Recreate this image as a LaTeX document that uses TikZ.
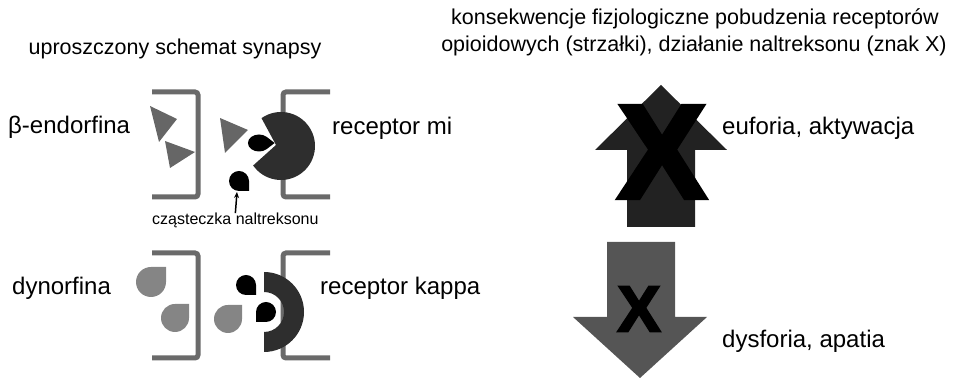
\documentclass[tikz,border=0pt]{standalone}
\usepackage{fontspec}
\setmainfont{Liberation Sans}
\newfontfamily\xheavy{Liberation Sans Bold}[FakeBold=3]
\usetikzlibrary{calc,arrows.meta}
\definecolor{memgray}{HTML}{6A6A6A}
\definecolor{ligandgray}{HTML}{666666}
\definecolor{dropgray}{HTML}{858585}
\definecolor{recdark}{HTML}{2E2E2E}
\definecolor{updark}{HTML}{222222}
\definecolor{downgray}{HTML}{555555}
\tikzset{
  pics/drop/.style={code={
    \fill[pic actions] (0,#1) -- (#1,#1) -- (#1,0)
      arc[start angle=0,end angle=-270,radius=#1pt] -- cycle;}},
  lbl/.style={inner sep=0pt, anchor=base west, font=\fontsize{24}{28}\selectfont},
  ttl/.style={inner sep=0pt, anchor=base, font=\fontsize{21.5}{26}\selectfont},
  small/.style={inner sep=0pt, anchor=base west, font=\fontsize{16}{19}\selectfont},
  membrane/.style={draw=memgray, line width=5pt, rounded corners=3pt},
  xmark/.style={inner sep=0pt, anchor=center},
}
\begin{document}
\begin{tikzpicture}[x=1pt,y=1pt]
\useasboundingbox (0,0) rectangle (962,379);

% titles
\node[ttl] (t1) at (175,324) {uproszczony schemat synapsy};
\node[ttl] (t2a) at (695,354) {konsekwencje fizjologiczne pobudzenia receptorów};
\node[ttl] (t2b) at (694,327) {opioidowych (strzałki), działanie naltreksonu (znak X)};

% membranes: presynaptic ] and postsynaptic [
\draw[membrane] (152,287) -- (198,287) -- (198,182) -- (152,182);
\draw[membrane] (330,287) -- (283,287) -- (283,182) -- (330,182);
\draw[membrane] (152,126) -- (198,126) -- (198,21) -- (152,21);
\draw[membrane] (330,126) -- (283,126) -- (283,21) -- (330,21);

% beta-endorphin molecules
\fill[ligandgray] (150,273) -- (177,260) -- (159,237) -- cycle;
\fill[ligandgray] (165,238) -- (195,227) -- (170,211) -- cycle;
\fill[ligandgray] (220,261) -- (248,249) -- (225,226) -- cycle;

% mu receptor
\coordinate (miC) at (281,233);
\coordinate (miA) at (276,234);
\fill[recdark] (miA) -- ($(miC)+(215:34)$)
  arc[start angle=215,end angle=485,radius=34pt] -- cycle;

% naltrexone (upper)
\pic[fill=black, xscale=1.3, rotate=-45] (nalmi) at (259,236) {drop=8.5};
\pic[fill=black, rotate=-90] (nalfree) at (239,198) {drop=10};
\coordinate (naltip) at (237,187);

% dynorphin molecules
\pic[fill=dropgray] (dyn1) at (151,97) {drop=15};
\pic[fill=dropgray] (dyn2) at (175,61) {drop=14};
\pic[fill=dropgray] (dyn3) at (228,60) {drop=14};

% kappa receptor
\coordinate (kC) at (264,67);
\fill[recdark] ($(kC)+(0,40)$) arc[start angle=90,end angle=-90,radius=40pt]
  -- ++(0,20) arc[start angle=-90,end angle=90,radius=20pt] -- cycle;

% naltrexone (lower)
\pic[fill=black, rotate=-90] (nalk1) at (246,94) {drop=10};
\pic[fill=black, rotate=180] (nalk2) at (266,67) {drop=10};

% labels
\node[lbl] (bend) at (8,245) {β-endorfina};
\node[lbl] (rmi) at (332,244) {receptor mi};
\node[lbl] (dyn) at (12,84) {dynorfina};
\node[lbl] (rkap) at (320,84) {receptor kappa};
\node[small] (nal) at (152,154) {cząsteczka naltreksonu};
\draw[-{Stealth[length=6pt,width=5pt]}, line width=1.5pt] (nal.north) -- (naltip);

% physiological effects
\fill[updark] (627,152) -- (627,229) -- (595,229) -- (661,294) -- (727,229)
  -- (695,229) -- (695,152) -- cycle;
\node[xmark, font=\xheavy\fontsize{134}{134}\selectfont] (xup) at (662,227) {X};
\node[lbl] (euf) at (722,244) {euforia, aktywacja};

\fill[downgray] (607,137) -- (675,137) -- (675,62) -- (707,62) -- (640,1)
  -- (573,62) -- (607,62) -- cycle;
\node[xmark, font=\xheavy\fontsize{65}{65}\selectfont] (xdown) at (639,70) {X};
\node[lbl] (dys) at (722,31) {dysforia, apatia};
\end{tikzpicture}
\end{document}
